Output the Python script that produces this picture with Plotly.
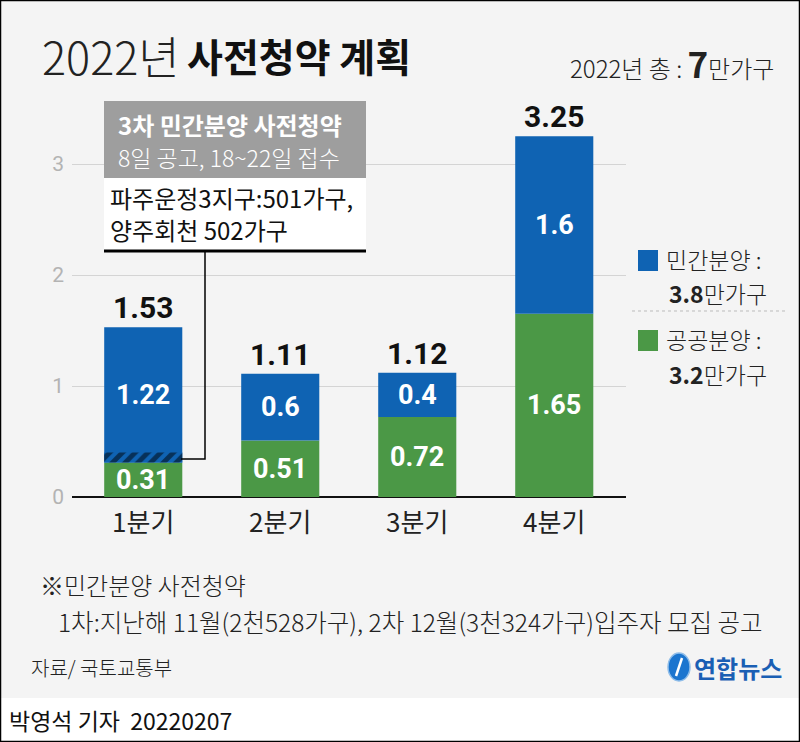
import plotly.graph_objects as go

# ---------------- data ----------------
quarters = ["1분기", "2분기", "3분기", "4분기"]
public = [0.31, 0.51, 0.72, 1.65]    # 공공분양
private = [1.22, 0.6, 0.4, 1.6]      # 민간분양
y_ticks = [0, 1, 2, 3]

totals = [round(a + b, 2) for a, b in zip(public, private)]
private_sum = sum(private)
public_sum = sum(public)
grand_total = private_sum + public_sum

# ---------------- style ----------------
W, H = 800, 742
BLUE = "#0f63b3"
GREEN = "#4b9846"
BG = "#f4f4f4"
KR = "Noto Sans CJK KR"
NUM = "Roboto, Noto Sans CJK KR"
BAR_W = 0.57
HATCH = 0.09


def px(x):
    return x / W


def py(y):
    return 1 - y / H


fig = go.Figure()
fig.add_bar(x=quarters, y=public, base=[0] * len(public), width=BAR_W,
            marker=dict(color=GREEN, line=dict(width=0)), hoverinfo="skip")
fig.add_bar(x=quarters, y=private, base=public, width=BAR_W,
            marker=dict(color=BLUE, line=dict(width=0)), hoverinfo="skip")
fig.add_bar(x=quarters[:1], y=[HATCH], base=public[:1], width=BAR_W,
            marker=dict(color=BLUE, line=dict(width=0),
                        pattern=dict(shape="/", fgcolor="black", bgcolor=BLUE,
                                     size=9, solidity=0.55)),
            hoverinfo="skip")


def note(x, y, text, size, color="#222", weight=None, family=KR, anchor="left"):
    f = dict(family=family, size=size, color=color)
    if weight:
        f["weight"] = weight
    return dict(x=px(x), y=py(y), xref="paper", yref="paper", xanchor=anchor,
                yanchor="middle", text=text, showarrow=False, font=f)


ann = []
for q, p, v in zip(quarters, public, private):
    ann.append(dict(x=q, y=p / 2, xref="x", yref="y", text=f"<b>{p:g}</b>",
                    showarrow=False, font=dict(family=NUM, size=27, color="white")))
    ann.append(dict(x=q, y=p + v / 2, xref="x", yref="y", text=f"<b>{v:g}</b>",
                    showarrow=False, font=dict(family=NUM, size=27, color="white")))
for q, t in zip(quarters, totals):
    ann.append(dict(x=q, y=t, xref="x", yref="y", text=f"<b>{t:.2f}</b>",
                    yanchor="bottom", yshift=0, showarrow=False,
                    font=dict(family=NUM, size=30, color="#111")))

ann += [
    note(40, 55, "2022년", 45, "#222", 200),
    note(185, 55, "<b>사전청약 계획</b>", 39, "#111"),
    note(776, 62, f"2022년 총 : <span style='font-size:35px'><b>{grand_total:.0f}</b></span>만가구",
         24, "#222", 300, anchor="right"),
    note(116, 124, "<b>3차 민간분양 사전청약</b>", 24, "white"),
    note(116, 157, "8일 공고, 18~22일 접수", 23, "white", 300),
    note(108, 197, "파주운정3지구:501가구,", 24, "#111"),
    note(108, 229, "양주회천 502가구", 24, "#111"),
    note(664, 259, "민간분양 :", 23, "#222", 300),
    note(667, 293, f"<b>{private_sum:.1f}</b>만가구", 23, "#222", 300),
    note(664, 339, "공공분양 :", 23, "#222", 300),
    note(667, 374, f"<b>{public_sum:.1f}</b>만가구", 23, "#222", 300),
    note(38, 584, "※민간분양 사전청약", 24, "#222", 300),
    note(56, 621, "1차:지난해 11월(2천528가구), 2차 12월(3천324가구)입주자 모집 공고",
         24.5, "#222", 300),
    note(29, 667, "자료/ 국토교통부", 20, "#222", 300),
    note(692, 667, "<b>연합뉴스</b>", 24, "#1a5fb4"),
    note(7, 720, "박영석 기자  20220207", 23, "#111"),
]

shapes = [
    dict(type="rect", xref="paper", yref="paper", x0=0, x1=1, y0=0, y1=py(698),
         fillcolor="white", line=dict(width=0), layer="below"),
    dict(type="rect", xref="paper", yref="paper", x0=px(104), x1=px(366),
         y0=py(178), y1=py(101), fillcolor="#9e9e9e", line=dict(width=0)),
    dict(type="rect", xref="paper", yref="paper", x0=px(104), x1=px(366),
         y0=py(250), y1=py(178), fillcolor="white", line=dict(width=0)),
    dict(type="line", xref="paper", yref="paper", x0=px(104), x1=px(366),
         y0=py(251), y1=py(251), line=dict(color="black", width=3)),
    dict(type="path", xref="paper", yref="paper",
         path=f"M {px(205)} {py(252)} L {px(205)} {py(459)} L {px(181)} {py(459)}",
         line=dict(color="black", width=1.5)),
    dict(type="rect", xref="paper", yref="paper", x0=px(638), x1=px(658),
         y0=py(271), y1=py(250), fillcolor=BLUE, line=dict(width=0)),
    dict(type="rect", xref="paper", yref="paper", x0=px(638), x1=px(658),
         y0=py(351), y1=py(330), fillcolor=GREEN, line=dict(width=0)),
    dict(type="line", xref="paper", yref="paper", x0=px(632), x1=px(788),
         y0=py(311), y1=py(311), line=dict(color="#bbbbbb", width=1, dash="dot")),
    dict(type="circle", xref="paper", yref="paper", x0=px(668), x1=px(690),
         y0=py(681), y1=py(653), fillcolor="#1b75cf", line=dict(color="#8fbde9", width=1.5)),
    dict(type="line", xref="paper", yref="paper", x0=px(682), x1=px(676),
         y0=py(658), y1=py(676), line=dict(color="white", width=2.5)),
    dict(type="rect", xref="paper", yref="paper", x0=0, x1=1, y0=0, y1=1,
         line=dict(color="black", width=2.5), fillcolor="rgba(0,0,0,0)"),
]

fig.update_layout(
    width=W, height=H, margin=dict(l=0, r=0, t=0, b=0, pad=0),
    autosize=False,
    paper_bgcolor=BG, plot_bgcolor=BG,
    barmode="overlay", showlegend=False,
    annotations=ann, shapes=shapes,
    xaxis=dict(domain=[px(72), px(625.5)], range=[-0.52, 3.52], automargin=False,
               showgrid=False, showline=False, ticks="",
               tickfont=dict(family=KR, size=26, color="#222"), ticklabelstandoff=8),
    yaxis=dict(domain=[py(497), py(108.5)], range=[0, 3.5], automargin=False,
               tickvals=y_ticks, ticktext=[str(v) for v in y_ticks],
               showgrid=True, gridcolor="#d4d4d4", gridwidth=1,
               zeroline=True, zerolinecolor="#111", zerolinewidth=2,
               showline=False, ticks="",
               tickfont=dict(family=NUM, size=21, color="#b3b3b3"), ticklabelstandoff=7),
)

fig.write_html("out.html")
